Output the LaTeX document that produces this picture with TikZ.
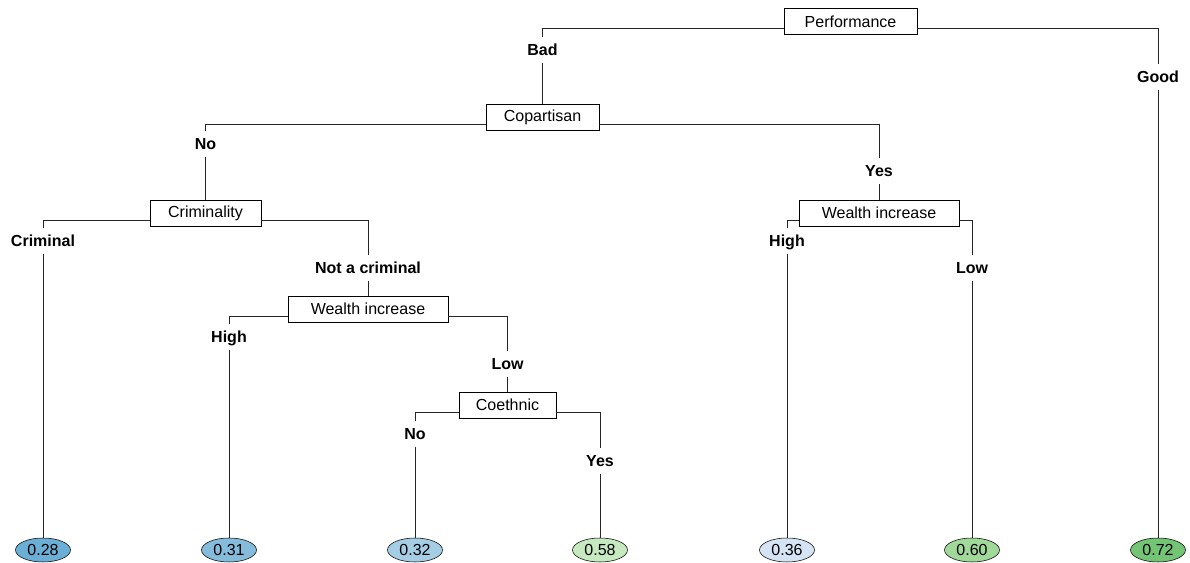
\documentclass[tikz,border=0pt]{standalone}
\usepackage{fontspec}
\setmainfont{Liberation Sans}
\usetikzlibrary{shapes.geometric}
\definecolor{c28}{HTML}{6BAED6}
\definecolor{c31}{HTML}{85BCDC}
\definecolor{c32}{HTML}{A5CDE4}
\definecolor{c36}{HTML}{D4E4F4}
\definecolor{c58}{HTML}{C7E9C0}
\definecolor{c60}{HTML}{A1D99B}
\definecolor{c72}{HTML}{74C476}
\tikzset{
  splitbox/.style={draw, fill=white, inner sep=0pt, minimum height=19.5pt,
    font=\fontsize{12}{14}\selectfont},
  edgelab/.style={inner sep=0pt, minimum height=19.5pt, text height=8.6pt, text depth=0pt,
    font=\fontsize{12}{14}\selectfont\bfseries},
  leaf/.style={draw, ellipse, inner sep=0pt, minimum width=41.25pt, minimum height=18pt,
    font=\fontsize{12}{14}\selectfont},
  conn/.style={line width=0.6pt, black!85},
}
\begin{document}
\begin{tikzpicture}[x=0.75pt, y=-0.75pt]
\useasboundingbox (0,0) rectangle (1190,563);
% split nodes
\node[splitbox, minimum width=99.75pt] (perf) at (850.5,21.5) {Performance};
\node[splitbox, minimum width=84.75pt] (cop) at (542.5,117) {Copartisan};
\node[splitbox, minimum width=83.25pt] (crim) at (205.5,213) {Criminality};
\node[splitbox, minimum width=120pt] (wl) at (368,309) {Wealth increase};
\node[splitbox, minimum width=72.75pt] (coe) at (507.5,405) {Coethnic};
\node[splitbox, minimum width=120pt] (wr) at (879,213) {Wealth increase};
% edge labels
\node[edgelab] (bad) at (542.5,50) {Bad};
\node[edgelab] (good) at (1158,77) {Good};
\node[edgelab] (no1) at (205.5,144) {No};
\node[edgelab] (yes1) at (879,171) {Yes};
\node[edgelab] (crl) at (43,241) {Criminal};
\node[edgelab] (ncl) at (368,268) {Not a criminal};
\node[edgelab] (hil) at (229,337) {High};
\node[edgelab] (lol) at (507.5,364) {Low};
\node[edgelab] (no2) at (415,434) {No};
\node[edgelab] (yes2) at (600,461) {Yes};
\node[edgelab] (hir) at (787,241) {High};
\node[edgelab] (lor) at (972,268) {Low};
% leaves
\node[leaf, fill=c28] (l1) at (43,550) {0.28};
\node[leaf, fill=c31] (l2) at (229,550) {0.31};
\node[leaf, fill=c32] (l3) at (415,550) {0.32};
\node[leaf, fill=c58] (l4) at (600,550) {0.58};
\node[leaf, fill=c36] (l5) at (787,550) {0.36};
\node[leaf, fill=c60] (l6) at (972,550) {0.60};
\node[leaf, fill=c72] (l7) at (1158,550) {0.72};
% connectors
\begin{scope}[conn]
\draw ([yshift=-5.25pt]perf.west) -| (bad.north);
\draw (bad.south) -- (cop.north);
\draw ([yshift=-5.25pt]perf.east) -| (good.north);
\draw (good.south) -- (l7.north);
\draw ([yshift=-5.25pt]cop.west) -| (no1.north);
\draw (no1.south) -- (crim.north);
\draw ([yshift=-5.25pt]cop.east) -| (yes1.north);
\draw (yes1.south) -- (wr.north);
\draw ([yshift=-5.25pt]crim.west) -| (crl.north);
\draw (crl.south) -- (l1.north);
\draw ([yshift=-5.25pt]crim.east) -| (ncl.north);
\draw (ncl.south) -- (wl.north);
\draw ([yshift=-5.25pt]wl.west) -| (hil.north);
\draw (hil.south) -- (l2.north);
\draw ([yshift=-5.25pt]wl.east) -| (lol.north);
\draw (lol.south) -- (coe.north);
\draw ([yshift=-5.25pt]coe.west) -| (no2.north);
\draw (no2.south) -- (l3.north);
\draw ([yshift=-5.25pt]coe.east) -| (yes2.north);
\draw (yes2.south) -- (l4.north);
\draw ([yshift=-5.25pt]wr.west) -| (hir.north);
\draw (hir.south) -- (l5.north);
\draw ([yshift=-5.25pt]wr.east) -| (lor.north);
\draw (lor.south) -- (l6.north);
\end{scope}
\end{tikzpicture}
\end{document}
